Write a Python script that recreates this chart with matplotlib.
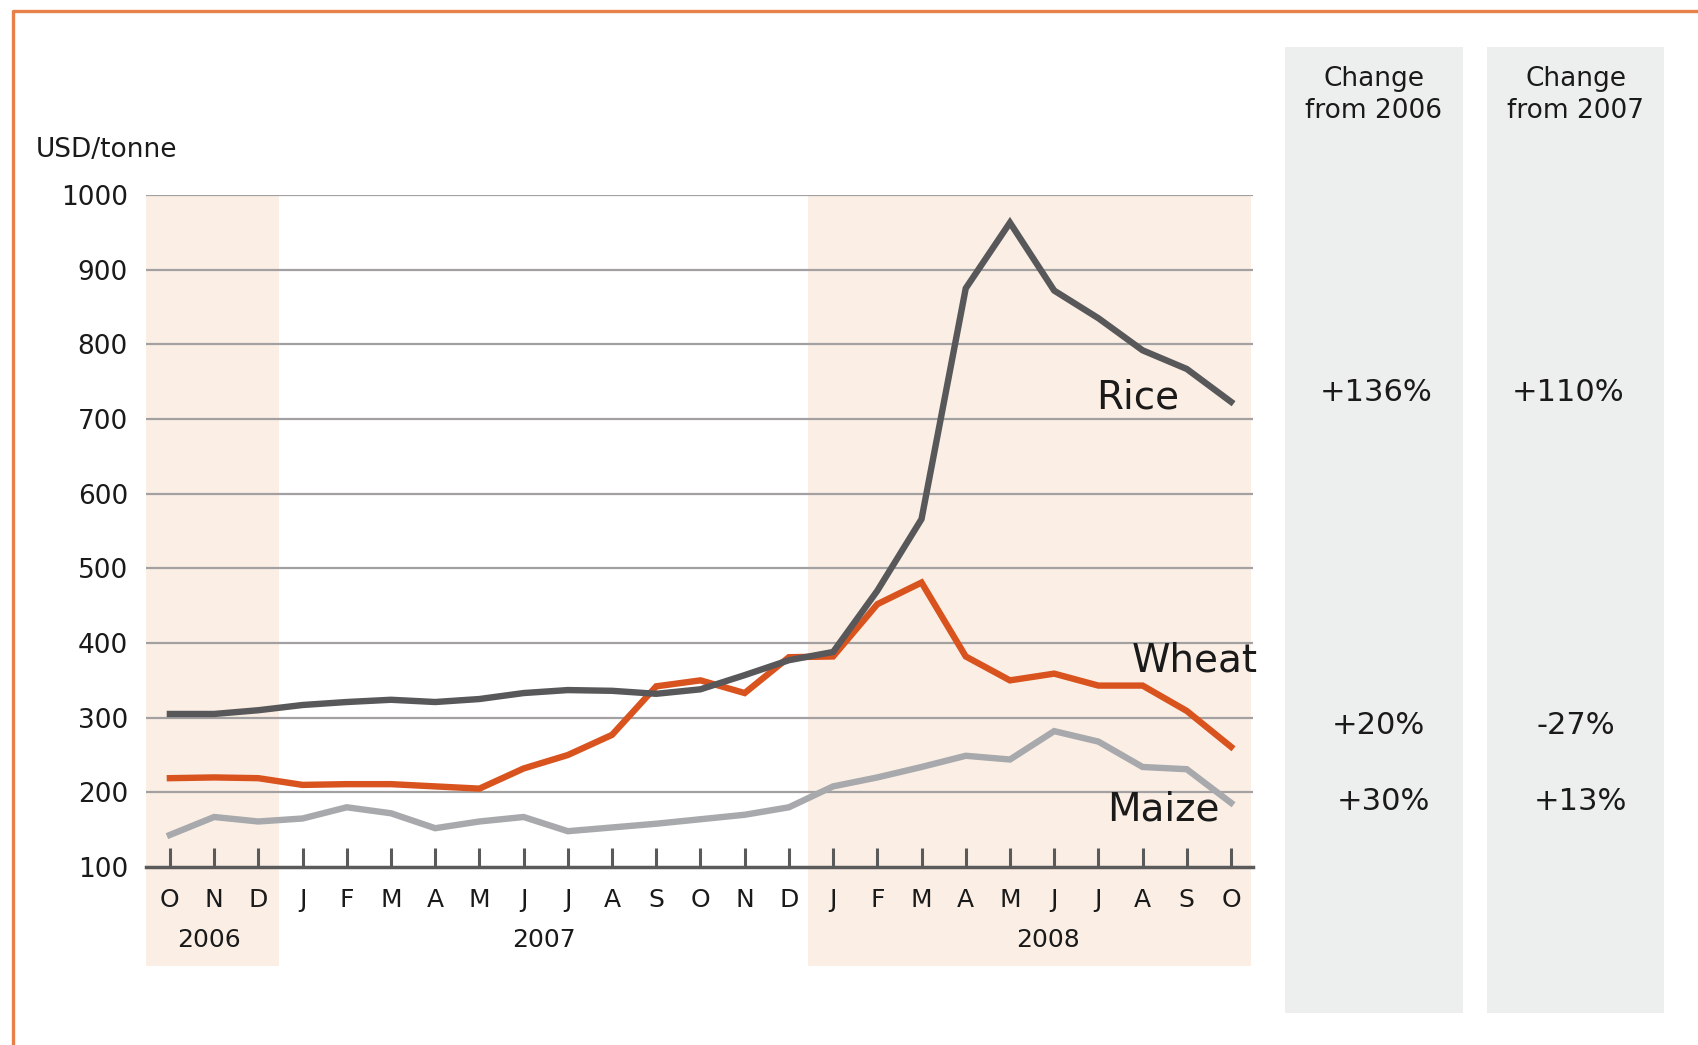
import matplotlib
matplotlib.use("Agg")
import matplotlib.pyplot as plt
from matplotlib.patches import Rectangle
from matplotlib.lines import Line2D
import matplotlib.transforms as mtransforms

# data (USD/tonne, Oct 2006 .. Oct 2008)
months = ["O", "N", "D", "J", "F", "M", "A", "M", "J", "J", "A", "S",
          "O", "N", "D", "J", "F", "M", "A", "M", "J", "J", "A", "S", "O"]
rice = [305, 305, 310, 317, 321, 324, 321, 325, 333, 337, 336, 332,
        338, 357, 377, 388, 470, 566, 875, 963, 872, 835, 792, 767, 723]
wheat = [219, 220, 219, 210, 211, 211, 208, 205, 232, 250, 277, 342,
         350, 333, 381, 382, 452, 481, 382, 350, 359, 343, 343, 309, 261]
maize = [143, 167, 161, 165, 180, 172, 152, 161, 167, 148, 153, 158,
         164, 170, 180, 208, 220, 234, 249, 244, 282, 268, 234, 231, 186]
years = ["2006", "2007", "2008"]
yticks = [100, 200, 300, 400, 500, 600, 700, 800, 900, 1000]

col_titles = ["Change\nfrom 2006", "Change\nfrom 2007"]
chg_2006 = ["+136%", "+20%", "+30%"]
chg_2007 = ["+110%", "-27%", "+13%"]

RICE_C = "#58585a"
WHEAT_C = "#d9531e"
MAIZE_C = "#a8a9ac"
SHADE = "#fbefe5"
GRID_C = "#a2a0a0"
TXT = "#1a1a1a"

plt.rcParams["font.family"] = ["DejaVu Sans"]

fig = plt.figure(figsize=(16.98, 10.45), dpi=100)
ax = fig.add_axes([0.086, 0.1703, 0.652, 0.6431])

x = list(range(len(months)))
ax.set_xlim(-0.54, 24.5)
ax.set_ylim(100, 1000)

# shaded year bands (extend below axis under the labels)
trans = mtransforms.blended_transform_factory(ax.transData, ax.transAxes)
for x0, x1 in [(-0.54, 2.47), (14.43, 24.45)]:
    ax.add_patch(Rectangle((x0, -0.147), x1 - x0, 1.147, transform=trans,
                           facecolor=SHADE, edgecolor="none", clip_on=False, zorder=0))

for v in yticks[1:]:
    ax.axhline(v, color=GRID_C, lw=1.6, zorder=1)

ax.plot(x, maize, color=MAIZE_C, lw=4.6, zorder=3, solid_joinstyle="miter")
ax.plot(x, wheat, color=WHEAT_C, lw=4.6, zorder=4, solid_joinstyle="miter")
ax.plot(x, rice, color=RICE_C, lw=4.6, zorder=5, solid_joinstyle="miter")

for s in ["top", "right", "left"]:
    ax.spines[s].set_visible(False)
ax.spines["bottom"].set_color("#5a5a5a")
ax.spines["bottom"].set_linewidth(2.5)
ax.spines["bottom"].set_zorder(6)
ax.patch.set_alpha(0)

ax.set_xticks(x)
ax.set_xticklabels(months)
ax.tick_params(axis="x", direction="in", length=14, width=2.2, color="#5a5a5a",
               pad=15, labelsize=18, labelcolor=TXT)
ax.set_yticks(yticks)
ax.set_yticklabels([str(v) for v in yticks])
ax.tick_params(axis="y", length=0, pad=13, labelsize=19, labelcolor=TXT)

for yr, xp in zip(years, [0.88, 8.47, 19.86]):
    ax.text(xp, -0.108, yr, transform=trans, ha="center", va="center",
            fontsize=18, color=TXT)

ax.text(21.9, 729, "Rice", ha="center", va="center", fontsize=28, color=TXT, zorder=7)
ax.text(23.17, 377, "Wheat", ha="center", va="center", fontsize=28, color=TXT, zorder=7)
ax.text(22.48, 177, "Maize", ha="center", va="center", fontsize=28, color=TXT, zorder=7)

fig.text(0.021, 0.856, "USD/tonne", ha="left", va="center", fontsize=19, color=TXT)

# right-hand change columns
for bx in [0.757, 0.8757]:
    fig.patches.append(Rectangle((bx, 0.0311), 0.1045, 0.924, transform=fig.transFigure,
                                 facecolor="#edeeee", edgecolor="none", zorder=0))
fig.text(0.809, 0.909, col_titles[0], ha="center", va="center", fontsize=19,
         color=TXT, linespacing=1.3)
fig.text(0.928, 0.909, col_titles[1], ha="center", va="center", fontsize=19,
         color=TXT, linespacing=1.3)
rows_y = [0.624, 0.306, 0.2333]
for lab, yy, xx in zip(chg_2006, rows_y, [0.8105, 0.8117, 0.8146]):
    fig.text(xx, yy, lab, ha="center", va="center", fontsize=22, color=TXT)
for lab, yy, xx in zip(chg_2007, rows_y, [0.9237, 0.928, 0.931]):
    fig.text(xx, yy, lab, ha="center", va="center", fontsize=22, color=TXT)

# orange frame on top and left
fig.lines.append(Line2D([0.0077, 0.0077, 1.0], [0.0, 0.9895, 0.9895],
                        transform=fig.transFigure, color="#e8804a", lw=2.4))

fig.savefig("out.png", dpi=100, facecolor="white")
